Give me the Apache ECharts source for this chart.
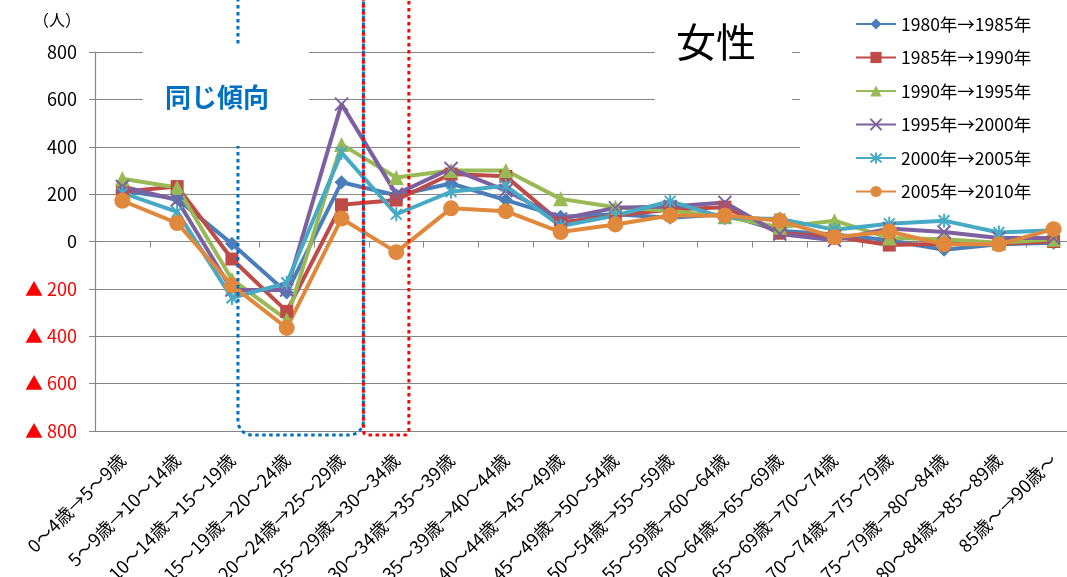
<!DOCTYPE html>
<html>
<head>
<meta charset="utf-8">
<script src="https://cdn.jsdelivr.net/npm/echarts@6/dist/echarts.min.js"></script>
<style>
  html, body { margin: 0; padding: 0; background: #fff; }
  #chart { width: 1067px; height: 577px; }
</style>
</head>
<body>
<div id="chart"></div>
<script>
// 年齢階級の移動（5年ごと）
const categories = [
  '0～4歳→5～9歳', '5～9歳→10～14歳', '10～14歳→15～19歳', '15～19歳→20～24歳',
  '20～24歳→25～29歳', '25～29歳→30～34歳', '30～34歳→35～39歳', '35～39歳→40～44歳',
  '40～44歳→45～49歳', '45～49歳→50～54歳', '50～54歳→55～59歳', '55～59歳→60～64歳',
  '60～64歳→65～69歳', '65～69歳→70～74歳', '70～74歳→75～79歳', '75～79歳→80～84歳',
  '80～84歳→85～89歳', '85歳～→90歳～'
];

// 女性の純移動数（人）
const s1980_1985 = [215, 180, -10, -215, 250, 195, 245, 175, 105, 115, 100, 115, 45, 30, 5, -35, -12, -5];
const s1985_1990 = [210, 232, -74, -295, 155, 175, 285, 275, 80, 110, 135, 145, 35, 20, -15, -10, -10, 0];
const s1990_1995 = [265, 228, -160, -330, 410, 270, 300, 300, 180, 145, 130, 105, 60, 88, 15, 10, -5, 10];
const s1995_2000 = [232, 175, -205, -205, 580, 200, 308, 215, 95, 142, 148, 165, 32, 5, 55, 40, 15, 15];
const s2000_2005 = [205, 125, -238, -175, 375, 115, 210, 235, 65, 110, 170, 100, 95, 50, 75, 88, 38, 48];
const s2005_2010 = [172, 78, -185, -365, 97, -45, 140, 128, 40, 72, 110, 110, 88, 18, 42, -12, -12, 52];

const seriesNames = [
  '1980年→1985年', '1985年→1990年', '1990年→1995年',
  '1995年→2000年', '2000年→2005年', '2005年→2010年'
];
const seriesValues = [s1980_1985, s1985_1990, s1990_1995, s1995_2000, s2000_2005, s2005_2010];

const yTicks = { min: -800, max: 800, interval: 200 };

const colors = ['#4A7EBB', '#BE4B48', '#98B954', '#7D60A0', '#46AAC5', '#E0883C'];
const symbols = [
  'diamond',
  'rect',
  'triangle',
  'path://M0,0L10,10M10,0L0,10',
  'path://M0,0L10,10M10,0L0,10M5,-1.5L5,11.5',
  'circle'
];
const symbolSizes = [14, 13, 15, 13, 14, 16];
const strokeMarker = [false, false, false, true, true, false];

const FONT = '"Noto Sans CJK JP", "Noto Sans", sans-serif';

const chart = echarts.init(document.getElementById('chart'), null, { renderer: 'canvas' });

const series = seriesNames.map((name, i) => ({
  name: name,
  type: 'line',
  data: seriesValues[i],
  symbol: symbols[i],
  symbolSize: symbolSizes[i],
  symbolKeepAspect: true,
  showAllSymbol: true,
  lineStyle: { width: 4, color: colors[i] },
  itemStyle: strokeMarker[i]
    ? { color: colors[i], borderColor: colors[i], borderWidth: 2 }
    : { color: colors[i], borderWidth: 0 },
  emphasis: { disabled: true },
  animation: false
}));

chart.setOption({
  backgroundColor: '#ffffff',
  animation: false,
  textStyle: { fontFamily: FONT },
  grid: { left: 95, top: 52, width: 986, height: 379, containLabel: false, outerBoundsMode: 'none' },
  legend: {
    orient: 'vertical',
    left: 850,
    top: 9,
    itemWidth: 40,
    itemHeight: 14,
    itemGap: 13.5,
    data: seriesNames,
    textStyle: { fontFamily: FONT, fontSize: 17.5, color: '#000', lineHeight: 20, padding: [0, 0, 0, 0] },
    selectedMode: false,
    z: 20
  },
  xAxis: {
    type: 'category',
    data: categories,
    boundaryGap: true,
    axisLine: { show: true, lineStyle: { color: '#868686', width: 1.2 } },
    axisTick: { show: true, length: 6, inside: false, lineStyle: { color: '#868686' } },
    axisLabel: {
      interval: 0,
      rotate: 45,
      margin: 26,
      fontFamily: FONT,
      fontSize: 18,
      color: '#000'
    },
    splitLine: { show: false }
  },
  yAxis: {
    type: 'value',
    min: yTicks.min,
    max: yTicks.max,
    interval: yTicks.interval,
    name: '（人）',
    nameLocation: 'end',
    nameGap: 24,
    nameTextStyle: { fontFamily: FONT, fontSize: 16, color: '#000', align: 'right', padding: [0, 14, 0, 0] },
    axisLine: { show: true, lineStyle: { color: '#868686', width: 1.2 } },
    axisTick: { show: true, length: 6, lineStyle: { color: '#868686' } },
    axisLabel: {
      margin: 18,
      fontFamily: FONT,
      fontSize: 18,
      formatter: v => (v < 0 ? '▲ ' + (-v) : String(v)),
      color: v => (Number(v) < 0 ? '#FF0000' : '#000000')
    },
    splitLine: { show: true, lineStyle: { color: '#868686', width: 1.2 } }
  },
  series: series
});

// 注記（点線の枠・テキストボックス）はカテゴリ位置から配置する
const px = i => chart.convertToPixel({ xAxisIndex: 0 }, i);
const py = v => chart.convertToPixel({ yAxisIndex: 0 }, v);
const catW = px(1) - px(0);
const yBottom = py(yTicks.min) + 4;

const blueLeft = px(2) + 0.11 * catW;
const splitX = px(4) + 0.4 * catW;
const redRight = px(5) + 0.23 * catW;

chart.setOption({
  graphic: [
    // 「同じ傾向」の範囲（青の点線）
    {
      type: 'rect', z: 10,
      shape: { x: blueLeft, y: -20, width: splitX - blueLeft, height: yBottom + 20, r: [0, 0, 14, 14] },
      style: { fill: 'none', stroke: '#0070C0', lineWidth: 3, lineDash: [3.5, 3.5] }
    },
    // 25～29歳→30～34歳 の範囲（赤の点線）
    {
      type: 'rect', z: 11,
      shape: { x: splitX, y: -20, width: redRight - splitX, height: yBottom + 20, r: [0, 0, 4, 4] },
      style: { fill: 'none', stroke: '#FF0000', lineWidth: 3, lineDash: [3.5, 3.5], lineDashOffset: 3.5 }
    },
    // テキストボックス「同じ傾向」
    {
      type: 'rect', z: 12,
      shape: { x: 143, y: 44, width: 166, height: 102 },
      style: { fill: '#ffffff', stroke: 'none' }
    },
    {
      type: 'text', z: 13,
      x: 217, y: 97,
      style: {
        text: '同じ傾向', fill: '#0070C0',
        font: 'bold 26px ' + FONT,
        align: 'center', verticalAlign: 'middle'
      }
    },
    // タイトル「女性」
    {
      type: 'rect', z: 12,
      shape: { x: 655, y: 10, width: 137, height: 110 },
      style: { fill: '#ffffff', stroke: 'none' }
    },
    {
      type: 'text', z: 13,
      x: 716, y: 42,
      style: {
        text: '女性', fill: '#000000',
        font: '40px ' + FONT,
        align: 'center', verticalAlign: 'middle'
      }
    },
    // 凡例の背景
    {
      type: 'rect', z: 12,
      shape: { x: 800, y: 0, width: 267, height: 204 },
      style: { fill: '#ffffff', stroke: 'none' }
    }
  ]
});
</script>
</body>
</html>
